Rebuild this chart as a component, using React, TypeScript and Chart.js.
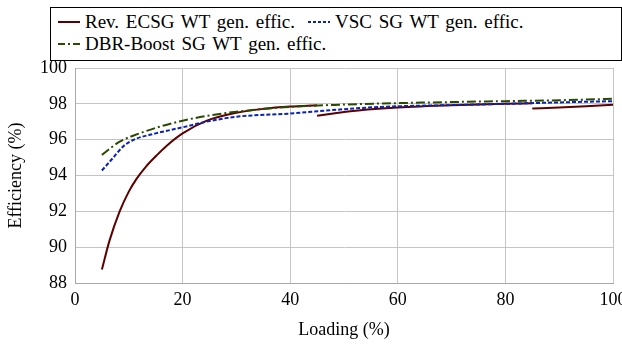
import React, { useEffect, useRef } from "react";
import { Chart, registerables } from "chart.js";
Chart.register(...registerables);

const xTicks = [0, 20, 40, 60, 80, 100];
const yTicks = [88, 90, 92, 94, 96, 98, 100];

const revSeg1X = [5, 6.4, 8.3, 10, 11.4, 13.2, 15.1, 17, 20, 24.4, 30, 35, 40, 45];
const revSeg1Y = [88.75, 90.35, 92.0, 93.1, 93.8, 94.5, 95.1, 95.65, 96.35, 97.05, 97.5, 97.72, 97.85, 97.92];
const revSeg2X = [45, 50, 57, 60, 70, 80, 85];
const revSeg2Y = [97.33, 97.55, 97.74, 97.8, 97.92, 98.0, 98.03];
const revSeg3X = [85, 90, 95, 100];
const revSeg3Y = [97.74, 97.8, 97.87, 97.95];

const vscX = [5, 7, 8.9, 10.8, 15, 20, 24.4, 30, 40, 50, 57, 70, 80, 90, 100];
const vscY = [94.28, 94.96, 95.61, 95.98, 96.35, 96.69, 97.0, 97.28, 97.46, 97.7, 97.83, 97.93, 98.0, 98.08, 98.15];

const dbrX = [5, 8.3, 12, 15.7, 20, 24.4, 30, 40, 50, 57, 70, 80, 90, 100];
const dbrY = [95.15, 95.89, 96.35, 96.72, 97.06, 97.32, 97.56, 97.83, 97.96, 98.02, 98.1, 98.15, 98.2, 98.28];

const labels = [
  "Rev. ECSG WT gen. effic.",
  "VSC SG WT gen. effic.",
  "DBR-Boost SG WT gen. effic.",
];
const colors = ["#5c0000", "#0a23b4", "#2b4a00"];
const FONT = "'Liberation Serif', serif";

const pts = (xs: number[], ys: number[]) => xs.map((x, i) => ({ x, y: ys[i] }));

export default function App() {
  const ref = useRef<HTMLCanvasElement>(null);
  useEffect(() => {
    if (!ref.current) return;
    const rev = [
      ...pts(revSeg1X, revSeg1Y),
      { x: 45, y: null },
      ...pts(revSeg2X, revSeg2Y),
      { x: 85, y: null },
      ...pts(revSeg3X, revSeg3Y),
    ];
    const chart = new Chart(ref.current, {
      type: "line",
      data: {
        datasets: [
          {
            label: labels[2],
            data: pts(dbrX, dbrY),
            borderColor: colors[2],
            borderWidth: 2,
            borderDash: [9, 3, 2, 3],
            pointRadius: 0,
            cubicInterpolationMode: "monotone",
          },
          {
            label: labels[1],
            data: pts(vscX, vscY),
            borderColor: colors[1],
            borderWidth: 2,
            borderDash: [4, 2],
            pointRadius: 0,
            cubicInterpolationMode: "monotone",
          },
          {
            label: labels[0],
            data: rev as any,
            borderColor: colors[0],
            borderWidth: 2,
            pointRadius: 0,
            spanGaps: false,
            cubicInterpolationMode: "monotone",
          },
        ],
      },
      options: {
        animation: false,
        responsive: false,
        layout: { padding: { top: 68, right: 9, left: 0, bottom: 0 } },
        plugins: { legend: { display: false }, tooltip: { enabled: false } },
        scales: {
          x: {
            type: "linear",
            min: 0,
            max: 100,
            afterBuildTicks: (s: any) => {
              s.ticks = xTicks.map((v) => ({ value: v }));
            },
            afterFit: (s: any) => {
              s.height = 61;
              s.paddingRight = 0;
              s.paddingLeft = 0;
            },
            ticks: { color: "#000", font: { family: FONT, size: 18 }, padding: 6, maxRotation: 0 },
            grid: { color: "#c4c4c4", lineWidth: 1, drawTicks: false },
            border: { color: "#a8a8a8", width: 1 },
            title: {
              display: true,
              text: "Loading (%)",
              color: "#000",
              font: { family: FONT, size: 18 },
              padding: { top: 0, bottom: 3 },
            },
          },
          y: {
            type: "linear",
            min: 88,
            max: 100,
            afterBuildTicks: (s: any) => {
              s.ticks = yTicks.map((v) => ({ value: v }));
            },
            afterFit: (s: any) => {
              s.width = 75;
              s.paddingTop = 0;
              s.paddingBottom = 0;
            },
            ticks: { color: "#000", font: { family: FONT, size: 18 }, padding: 8 },
            grid: { color: "#c4c4c4", lineWidth: 1, drawTicks: false },
            border: { color: "#a8a8a8", width: 1 },
            title: {
              display: true,
              text: "Efficiency (%)",
              color: "#000",
              font: { family: FONT, size: 18 },
              padding: { top: 5, bottom: 0 },
            },
          },
        },
      },
    });
    return () => chart.destroy();
  }, []);

  const sample = (i: number) => (
    <svg width={22} height={6} style={{ display: "block" }}>
      <line
        x1={0}
        y1={3}
        x2={22}
        y2={3}
        stroke={colors[i]}
        strokeWidth={2}
        strokeDasharray={i === 1 ? "3 2" : i === 2 ? "7 3 2 3" : undefined}
      />
    </svg>
  );
  const item = (i: number, left: number, top: number) => (
    <div
      key={i}
      style={{
        position: "absolute",
        left,
        top,
        display: "flex",
        alignItems: "center",
        fontFamily: FONT,
        fontSize: 19,
        whiteSpace: "nowrap",
        lineHeight: "22px",
        wordSpacing: 2,
      }}
    >
      {sample(i)}
      <span style={{ marginLeft: 5 }}>{labels[i]}</span>
    </div>
  );

  return (
    <div style={{ position: "fixed", left: 0, top: 0, width: 622, height: 344, background: "#fff" }}>
      <canvas ref={ref} width={622} height={344} style={{ position: "absolute", left: 0, top: 0 }} />
      <div
        style={{
          position: "absolute",
          left: 50,
          top: 7,
          width: 570,
          height: 52,
          border: "1px solid #000",
          background: "#fff",
        }}
      >
        {item(0, 7, 3)}
        {item(1, 257, 3)}
        {item(2, 7, 25)}
      </div>
    </div>
  );
}
